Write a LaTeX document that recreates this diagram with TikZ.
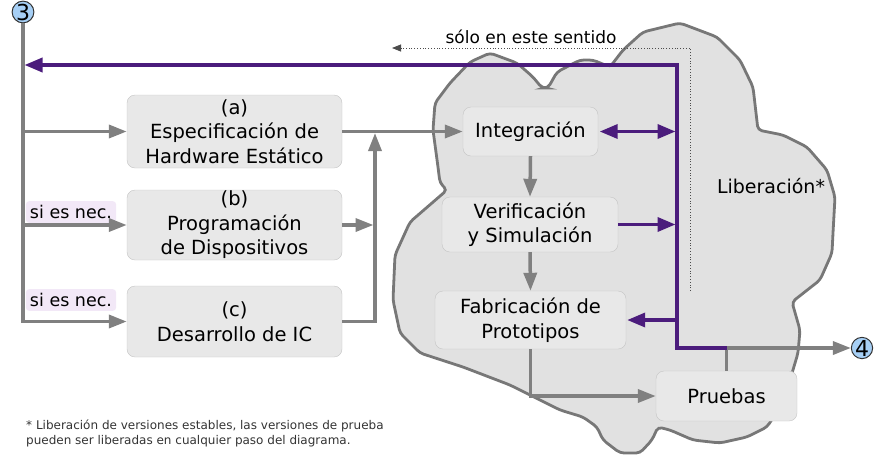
\documentclass[tikz,border=0pt]{standalone}
\usepackage{fontspec}
\setmainfont{DejaVu Sans}
\usetikzlibrary{arrows.meta}
\definecolor{boxgray}{HTML}{E8E8E8}
\definecolor{boxline}{HTML}{C4C4C4}
\definecolor{cloudgray}{HTML}{E1E1E1}
\definecolor{cloudline}{HTML}{777777}
\definecolor{flowgray}{HTML}{808080}
\definecolor{relpurple}{HTML}{4B1C7C}
\definecolor{ballblue}{HTML}{A6CFF5}
\definecolor{notelila}{HTML}{F2E8F7}
\tikzset{reltip/.tip = {Triangle[length=18pt,width=14pt]}}
\begin{document}
\begin{tikzpicture}[x=1pt,y=-1pt,%
% common options for the boxes:
block/.style = {draw=boxline, fill=boxgray, rounded corners=8pt, align=center,
            inner sep=0, font=\fontsize{19.5}{24.5}\selectfont},
% common options for the circles:
ball/.style = {circle, draw=black!80, fill=ballblue, line width=1pt,
            minimum size=21pt, inner sep=0, font=\fontsize{22}{22}\selectfont},
% connectors:
flow/.style = {draw=flowgray, line width=3.5pt, -{Triangle[length=18pt,width=13pt]}},
rel/.style = {draw=relpurple, line width=3.5pt},
note/.style = {fill=notelila, rounded corners=3pt, inner sep=4pt,
            font=\fontsize{17.5}{20}\selectfont}]
\useasboundingbox (0,0) rectangle (881,459);
% cloud
\draw[draw=cloudline, fill=cloudgray, line width=2.8pt, rounded corners=4pt]
  (433,130) -- (435,103) -- (450,83) -- (470,62) -- (490,53) -- (517,63)
  -- (533,77) -- (542,88) -- (548,88) -- (557,72) -- (580,60) -- (593,60)
  -- (610,67) -- (623,50) -- (643,32) -- (680,23) -- (717,37) -- (740,60)
  -- (753,87) -- (758,130) -- (783,135) -- (807,147) -- (827,170) -- (835,197)
  -- (833,233) -- (832,253) -- (820,280) -- (792,302) -- (800,330) -- (798,353)
  -- (790,380) -- (780,407) -- (767,427) -- (747,437) -- (720,443) -- (693,440)
  -- (670,430) -- (658,427) -- (652,440) -- (640,453) -- (620,453) -- (603,440)
  -- (597,427) -- (583,417) -- (560,410) -- (510,385) -- (463,367) -- (420,353)
  -- (400,333) -- (393,300) -- (395,255) -- (410,222) -- (447,190) -- (440,183)
  -- (438,167) -- cycle;
\node[ball] (n3) at (23,12) {3};
\node[ball] (n4) at (862,348) {4};
\node[block, minimum width=215pt, minimum height=73pt] (a) at (234.5,131.5)
  {(a)\\Especificación de\\Hardware Estático};
\node[block, minimum width=215pt, minimum height=70pt] (b) at (234.5,225)
  {(b)\\Programación\\de Dispositivos};
\node[block, minimum width=215pt, minimum height=71pt] (c) at (234.5,321.5)
  {(c)\\Desarrollo de IC};
\node[block, minimum width=135pt, minimum height=49pt] (int) at (530.5,131.5) {Integración};
\node[block, minimum width=176pt, minimum height=55pt] (ver) at (530,224.5)
  {Verificación\\y Simulación};
\node[block, minimum width=191pt, minimum height=58pt] (fab) at (530.5,320)
  {Fabricación de\\Prototipos};
\node[block, minimum width=141pt, minimum height=50pt] (pru) at (726.5,396) {Pruebas};
\node[note] (s1) at (71,212) {si es nec.};
\node[note] (s2) at (71,300) {si es nec.};
\node[font=\fontsize{19}{22}\selectfont] (lib) at (771,186) {Liberación*};
\node[font=\fontsize{17}{20}\selectfont] (solo) at (531,37) {sólo en este sentido};
\node[anchor=north west, align=left, text=black!80, inner sep=0,
  font=\fontsize{12}{15}\selectfont] (foot) at (26,420)
  {* Liberación de versiones estables, las versiones de prueba\\
   pueden ser liberadas en cualquier paso del diagrama.};
\coordinate (jn) at (375,133);
\coordinate (top) at (677,65);
\coordinate (dotlow) at (690,291);
\coordinate (dotend) at (392,48);
% gray flow
\draw[flow] (n3.south) |- (a.west);
\draw[flow] (n3.south) |- (b.west);
\draw[flow] (n3.south) |- (c.west);
\draw[flow] (a.east) -- (int.west);
\draw[flow] (c.east) -| (jn);
\draw[flow, shorten >=1.5pt] (b.east) -- (b.east -| jn);
\draw[flow] (int.south) -- (ver.north);
\draw[flow] (ver.south) -- (fab.north);
\draw[flow] (fab.south) |- (pru.west);
\draw[flow] (pru.north) |- (n4.west);
% release lines
\draw[rel, -reltip, shorten >=1.5pt] (pru.north |- n4.west) -| (top) -- (n3 |- top);
\draw[rel, reltip-reltip, shorten <=1.5pt, shorten >=1.5pt] (int.east) -- (int.east -| top);
\draw[rel, -reltip, shorten >=1.5pt] (ver.east) -- (ver.east -| top);
\draw[rel, -reltip, shorten >=1pt] (fab.east -| top) -- (fab.east);
\draw[black!70, dotted, line width=0.8pt, -{Triangle[length=9pt,width=7pt]}]
  (dotlow) |- (dotend);
\end{tikzpicture}
\end{document}
